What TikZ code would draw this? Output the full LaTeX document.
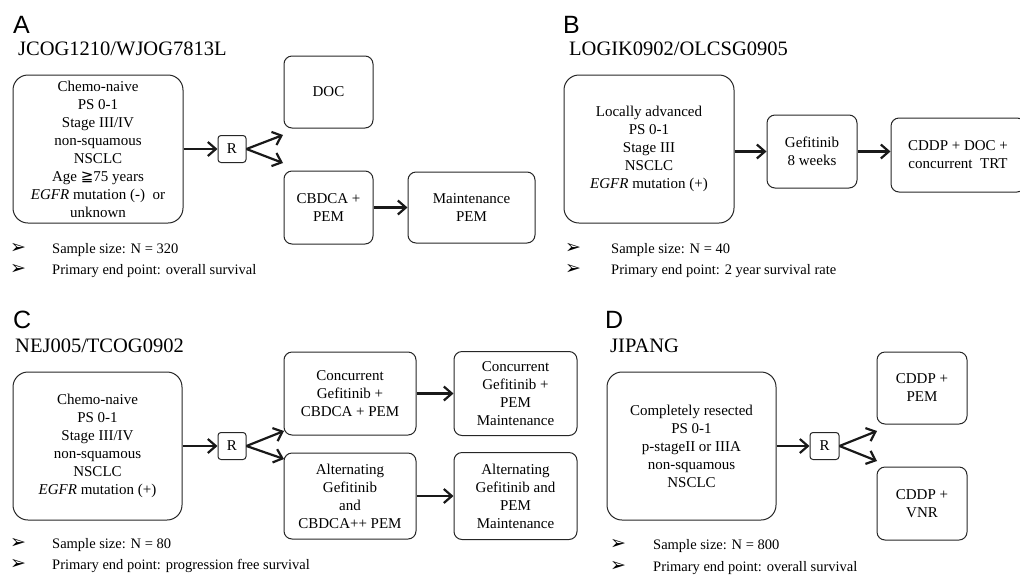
\documentclass[tikz,border=0pt]{standalone}
\usepackage{fontspec}
\setmainfont{Liberation Serif}
\newfontfamily\lettfont{Liberation Sans}
\newfontfamily\symfont{DejaVu Sans}
\usetikzlibrary{arrows.meta,positioning}

\begin{document}
\begin{tikzpicture}[x=1pt,y=-1pt,>={Straight Barb[length=8pt,width=14pt]},
 box/.style={draw=black!85,line width=1pt,rounded corners=8pt,align=center,
 inner sep=0pt,font=\fontsize{15}{18}\selectfont},
 pbox/.style={box,rounded corners=15pt,minimum width=170pt,minimum height=148pt},
 rbox/.style={box,rounded corners=3pt,minimum width=28pt,minimum height=27pt},
 arr/.style={->,line width=2.2pt,black!90},
 lett/.style={anchor=base west,inner sep=0pt,font=\lettfont\fontsize{25}{25}\selectfont},
 ttl/.style={anchor=base west,inner sep=0pt,font=\fontsize{20.5}{20.5}\selectfont},
 note/.style={anchor=base west,inner sep=0pt,font=\fontsize{14.5}{17}\selectfont},
 bul/.style={inner sep=0pt,font=\symfont\fontsize{19}{19}\selectfont}]
 \useasboundingbox (0,0) rectangle (1020,574);
 % A
 \node[lett] (lA) at (13,33) {A};
 \node[ttl] (tA) at (18,55) {JCOG1210/WJOG7813L};
 \node[pbox] (pA) at (98,149) {Chemo-naive\\PS 0-1\\Stage III/IV\\non-squamous\\NSCLC\\Age {\symfont ≧}75 years\\\textit{EGFR} mutation (-)\ \ or\\unknown};
 \node[rbox,right=34pt of pA] (rA) {R};
 \node[box,minimum width=89pt,minimum height=72pt] (docA) at (328.5,92) {DOC};
 \node[box,minimum width=89pt,minimum height=73pt] (cbA) at (328.5,207.5) {CBDCA +\\PEM};
 \node[box,minimum width=127pt,minimum height=71pt,right=34pt of cbA] (mpA) {Maintenance\\PEM};
 \coordinate (a1) at (283,135);
 \coordinate (a2) at (283,163);
 \draw[arr] (pA) -- (rA);
 \draw[arr] (rA.east) -- (a1);
 \draw[arr] (rA.east) -- (a2);
 \draw[arr] (cbA) -- (mpA);
 \node[bul] (bA1) at (18,248) {➢};
 \node[bul] (bA2) at (18,269) {➢};
 \node[note] (nA1) at (52,253) {Sample size: N = 320};
 \node[note] (nA2) at (52,274) {Primary end point: overall survival};
 % B
 \node[lett] (lB) at (563,33) {B};
 \node[ttl] (tB) at (569,55) {LOGIK0902/OLCSG0905};
 \node[pbox] (pB) at (649,149) {Locally advanced\\PS 0-1\\Stage III\\NSCLC\\\textit{EGFR} mutation (+)};
 \node[box,minimum width=90pt,minimum height=73pt] (gB) at (812,151.5) {Gefitinib\\8 weeks};
 \node[box,minimum width=134pt,minimum height=74pt] (cB) at (958,155) {CDDP + DOC +\\concurrent\ \ TRT};
 \draw[arr] (pB.east |- gB) -- (gB);
 \draw[arr] (gB.east) -- (gB.east -| cB.west);
 \node[bul] (bB1) at (573,248) {➢};
 \node[bul] (bB2) at (573,269) {➢};
 \node[note] (nB1) at (611,253) {Sample size: N = 40};
 \node[note] (nB2) at (611,274) {Primary end point: 2 year survival rate};
 % C
 \node[lett] (lC) at (13,328) {C};
 \node[ttl] (tC) at (15,352) {NEJ005/TCOG0902};
 \node[pbox,minimum width=169pt] (pC) at (97.5,446) {Chemo-naive\\PS 0-1\\Stage III/IV\\non-squamous\\NSCLC\\\textit{EGFR} mutation (+)};
 \node[rbox,right=35pt of pC] (rC) {R};
 \node[box,minimum width=132pt,minimum height=83pt] (coC) at (350,393.5) {Concurrent\\Gefitinib +\\CBDCA + PEM};
 \node[box,minimum width=132pt,minimum height=86pt] (alC) at (350,496) {Alternating\\Gefitinib\\and\\CBDCA++ PEM};
 \node[box,minimum width=123pt,minimum height=84pt,right=37pt of coC] (coMC) {Concurrent\\Gefitinib +\\PEM\\Maintenance};
 \node[box,minimum width=123pt,minimum height=87pt,right=37pt of alC] (alMC) {Alternating\\Gefitinib and\\PEM\\Maintenance};
 \coordinate (c1) at (284,431);
 \coordinate (c2) at (284,459);
 \draw[arr] (pC) -- (rC);
 \draw[arr] (rC.east) -- (c1);
 \draw[arr] (rC.east) -- (c2);
 \draw[arr] (coC) -- (coMC);
 \draw[arr] (alC) -- (alMC);
 \node[bul] (bC1) at (18,543) {➢};
 \node[bul] (bC2) at (18,564) {➢};
 \node[note] (nC1) at (52,548) {Sample size: N = 80};
 \node[note] (nC2) at (52,569) {Primary end point: progression free survival};
 % D
 \node[lett] (lD) at (605,328) {D};
 \node[ttl] (tD) at (610,352) {JIPANG};
 \node[pbox,minimum width=169pt] (pD) at (691.5,446) {Completely resected\\PS 0-1\\p-stageII or IIIA\\non-squamous\\NSCLC};
 \node[rbox,minimum width=29pt,right=33pt of pD] (rD) {R};
 \node[box,minimum width=90pt,minimum height=72pt] (cpD) at (922,388) {CDDP +\\PEM};
 \node[box,minimum width=90pt,minimum height=73pt] (cvD) at (922,503.5) {CDDP +\\VNR};
 \coordinate (d1) at (877,431);
 \coordinate (d2) at (877,461);
 \draw[arr] (pD) -- (rD);
 \draw[arr] (rD.east) -- (d1);
 \draw[arr] (rD.east) -- (d2);
 \node[bul] (bD1) at (618,544) {➢};
 \node[bul] (bD2) at (618,566) {➢};
 \node[note] (nD1) at (653,549) {Sample size: N = 800};
 \node[note] (nD2) at (653,571) {Primary end point: overall survival};
\end{tikzpicture}
\end{document}
